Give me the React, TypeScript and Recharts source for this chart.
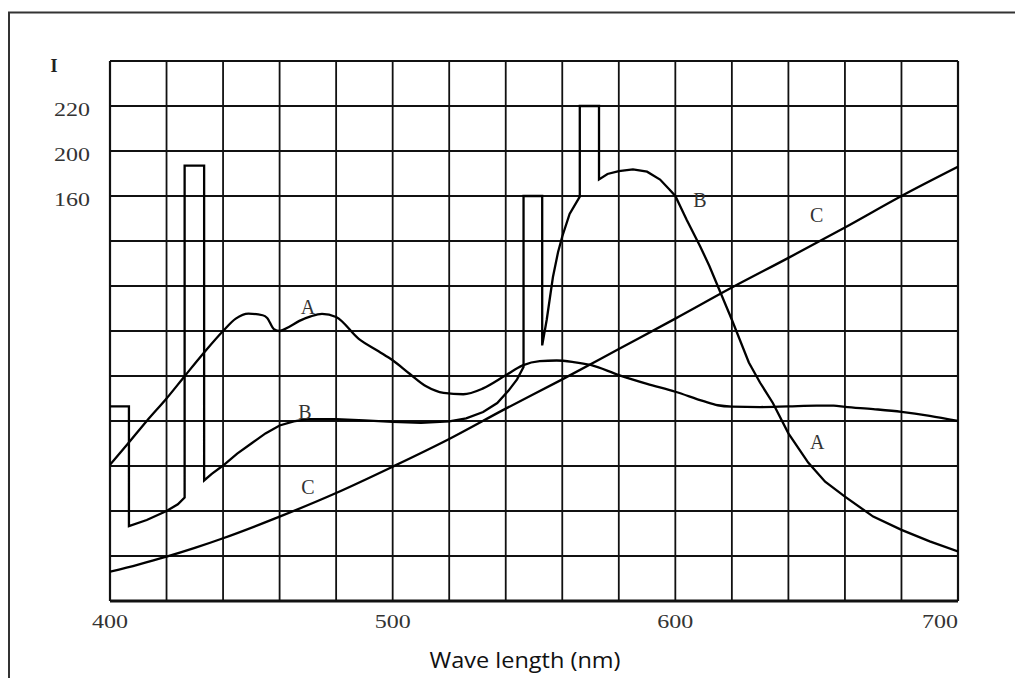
import {
  LineChart,
  Line,
  XAxis,
  YAxis,
  CartesianGrid,
  ReferenceDot,
  ReferenceLine,
} from "recharts";

type Pt = { x: number; y: number };

// wavelength (nm) / intensity points
const curveA: Pt[] = [
  { x: 400, y: 60.5 }, { x: 406.6, y: 70.3 }, { x: 413, y: 80 }, { x: 420, y: 90 },
  { x: 426.4, y: 99.9 }, { x: 433, y: 110 }, { x: 440, y: 120 }, { x: 444.5, y: 125.5 },
  { x: 449, y: 127.7 }, { x: 454, y: 127 }, { x: 455.6, y: 125.8 }, { x: 458, y: 120.8 },
  { x: 460, y: 120 }, { x: 463.3, y: 121.8 }, { x: 467, y: 124.5 }, { x: 471, y: 126.5 },
  { x: 475, y: 127.6 }, { x: 480, y: 126.2 }, { x: 488, y: 116.5 }, { x: 495, y: 111 },
  { x: 500, y: 107 }, { x: 506, y: 101 }, { x: 512, y: 95.3 }, { x: 518, y: 92.5 },
  { x: 525, y: 91.9 }, { x: 532, y: 94.5 }, { x: 540, y: 100.3 }, { x: 546, y: 104.7 },
  { x: 552, y: 106.6 }, { x: 558, y: 106.9 }, { x: 564, y: 106.2 }, { x: 570, y: 104.9 },
  { x: 580, y: 100.4 }, { x: 590, y: 96.5 }, { x: 600, y: 93 }, { x: 610, y: 88.8 },
  { x: 615, y: 87 }, { x: 620, y: 86.4 }, { x: 630, y: 86.2 }, { x: 640, y: 86.5 },
  { x: 650, y: 86.8 }, { x: 656, y: 86.8 }, { x: 660, y: 86.3 }, { x: 670, y: 85.3 },
  { x: 680, y: 84.1 }, { x: 690, y: 82.3 }, { x: 700, y: 80 },
];

const curveB: Pt[] = [
  { x: 400, y: 86.5 }, { x: 406.7, y: 86.5 }, { x: 406.7, y: 33.3 }, { x: 413, y: 36 },
  { x: 420, y: 40 }, { x: 424, y: 43 }, { x: 426.4, y: 46 }, { x: 426.4, y: 193.5 },
  { x: 433.3, y: 193.5 }, { x: 433.3, y: 53.6 }, { x: 436, y: 56.5 }, { x: 440, y: 60.2 },
  { x: 445, y: 65.5 }, { x: 450, y: 70 }, { x: 455, y: 74.5 }, { x: 460, y: 78 },
  { x: 465, y: 79.8 }, { x: 470, y: 80.8 }, { x: 480, y: 80.8 }, { x: 490, y: 80.3 },
  { x: 500, y: 79.6 }, { x: 510, y: 79.2 }, { x: 520, y: 79.8 }, { x: 526, y: 81.2 },
  { x: 532, y: 84 }, { x: 537, y: 88 }, { x: 541, y: 93.5 }, { x: 544, y: 98.5 },
  { x: 546.3, y: 104 }, { x: 546.3, y: 180 }, { x: 552.9, y: 180 }, { x: 552.9, y: 113.6 },
  { x: 554.5, y: 125 }, { x: 556.7, y: 144 }, { x: 558.5, y: 155 }, { x: 560, y: 162 },
  { x: 562.6, y: 172 }, { x: 566.2, y: 179.7 }, { x: 566.2, y: 220 }, { x: 573, y: 220 },
  { x: 573, y: 187.4 }, { x: 576, y: 189.8 }, { x: 580, y: 191.1 }, { x: 585, y: 191.8 },
  { x: 590, y: 190.8 }, { x: 594.6, y: 187.3 }, { x: 598, y: 182.8 }, { x: 600, y: 180 },
  { x: 604, y: 169.4 }, { x: 608.8, y: 157.6 }, { x: 612, y: 149 }, { x: 616, y: 137 },
  { x: 620, y: 125 }, { x: 626, y: 106 }, { x: 630, y: 97 }, { x: 634.5, y: 88 },
  { x: 640, y: 74.5 }, { x: 647, y: 61.5 }, { x: 653, y: 53 }, { x: 660, y: 46.4 },
  { x: 670, y: 37.5 }, { x: 680, y: 31.6 }, { x: 690, y: 26.5 }, { x: 700, y: 22 },
];

const curveC: Pt[] = [
  { x: 400, y: 13 }, { x: 410, y: 16.2 }, { x: 420, y: 19.7 }, { x: 430, y: 23.6 },
  { x: 440, y: 27.9 }, { x: 460, y: 37.5 }, { x: 480, y: 48 }, { x: 500, y: 59.7 },
  { x: 520, y: 72 }, { x: 540, y: 85.5 }, { x: 560, y: 98.5 }, { x: 580, y: 112 },
  { x: 600, y: 125.5 }, { x: 620, y: 139.3 }, { x: 640, y: 152.5 }, { x: 660, y: 166 },
  { x: 680, y: 180 }, { x: 700, y: 193 },
];

const xGridTicks = [400, 420, 440, 460, 480, 500, 520, 540, 560, 580, 600, 620, 640, 660, 680, 700];
const xLabelTicks = [400, 500, 600, 700];

const yGridTicks = [0, 20, 40, 60, 80, 100, 120, 140, 160, 180, 200, 220, 240];
const yLabelTicks = [180, 200, 220];
const yLabelText = ["160", "200", "220"];

const curveLabels = [
  { name: "A", x: 470, y: 130.7 },
  { name: "B", x: 469, y: 84.1 },
  { name: "C", x: 470, y: 50.8 },
  { name: "B", x: 608.7, y: 178.2 },
  { name: "C", x: 650, y: 171.6 },
  { name: "A", x: 650.2, y: 70.8 },
];

const INK = "#111";
const SERIF = "'Liberation Serif', 'DejaVu Serif', serif";

function XTick(props: any) {
  const v = props.payload.value;
  if (!xLabelTicks.includes(v)) return null;
  const last = v === xLabelTicks[xLabelTicks.length - 1];
  return (
    <text
      x={props.x}
      y={628}
      textAnchor={last ? "end" : "middle"}
      fontFamily={SERIF}
      fontSize={18}
      fill="#333"
      textLength={36}
      lengthAdjust="spacingAndGlyphs"
    >
      {String(v)}
    </text>
  );
}

function YTick(props: any) {
  const i = yLabelTicks.indexOf(props.payload.value);
  if (i < 0) return null;
  return (
    <text
      x={90}
      y={props.y + 10}
      textAnchor="end"
      fontFamily={SERIF}
      fontSize={18}
      fill="#333"
      textLength={36}
      lengthAdjust="spacingAndGlyphs"
    >
      {yLabelText[i]}
    </text>
  );
}

export default function App() {
  return (
    <div style={{ position: "relative", width: 1015, height: 678, background: "#fff" }}>
      <style>{`body{margin:0;overflow:hidden;background:#fff}`}</style>
      <div style={{ position: "absolute", left: 0, top: 0 }}>
        <LineChart
          width={1015}
          height={678}
          margin={{ top: 61, right: 57, bottom: 0, left: 0 }}
        >
          <CartesianGrid stroke={INK} strokeWidth={1.8} />
          <XAxis
            type="number"
            dataKey="x"
            domain={[400, 700]}
            ticks={xGridTicks}
            interval={0}
            height={77}
            axisLine={false}
            tickLine={false}
            tick={<XTick />}
            allowDataOverflow
          />
          <YAxis
            type="number"
            dataKey="y"
            domain={[0, 240]}
            ticks={yGridTicks}
            interval={0}
            width={110}
            axisLine={false}
            tickLine={false}
            tick={<YTick />}
            allowDataOverflow
          />
          <ReferenceLine y={0} stroke={INK} strokeWidth={2.8} />
          <ReferenceLine x={400} stroke={INK} strokeWidth={2.2} />
          <ReferenceLine y={240} stroke={INK} strokeWidth={2.2} />
          <ReferenceLine x={700} stroke={INK} strokeWidth={2.2} />
          <Line data={curveA} dataKey="y" type="monotone" stroke="#000" strokeWidth={2.3} dot={false} isAnimationActive={false} />
          <Line data={curveB} dataKey="y" type="linear" stroke="#000" strokeWidth={2.3} dot={false} isAnimationActive={false} />
          <Line data={curveC} dataKey="y" type="monotone" stroke="#000" strokeWidth={2.3} dot={false} isAnimationActive={false} />
          {curveLabels.map((l, i) => (
            <ReferenceDot
              key={i}
              x={l.x}
              y={l.y}
              r={0}
              fill="none"
              stroke="none"
              label={{
                value: l.name,
                position: "center",
                fontFamily: SERIF,
                fontSize: 20,
                fill: "#333",
              }}
            />
          ))}
        </LineChart>
      </div>
      <svg
        width={1015}
        height={678}
        style={{ position: "absolute", left: 0, top: 0, pointerEvents: "none" }}
      >
        <line x1={8} y1={12.5} x2={1015} y2={12.5} stroke="#333" strokeWidth={2} />
        <line x1={9} y1={12} x2={9} y2={678} stroke="#333" strokeWidth={2} />
        <text x={54} y={72} textAnchor="middle" fontFamily={SERIF} fontWeight="bold" fontSize={18} fill="#222">
          I
        </text>
        <text
          x={525}
          y={668}
          textAnchor="middle"
          fontFamily="'Open Sans', 'Liberation Sans', sans-serif"
          fontSize={21}
          fill="#111"
          textLength={191}
          lengthAdjust="spacingAndGlyphs"
        >
          Wave length (nm)
        </text>
      </svg>
    </div>
  );
}
